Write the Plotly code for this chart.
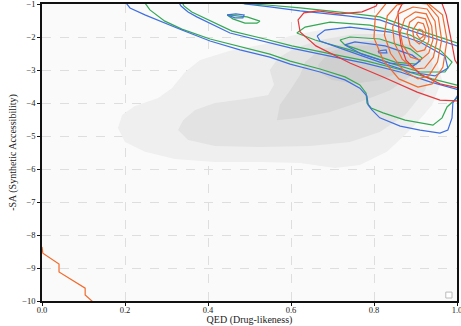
import plotly.graph_objects as go

# ---------------- reference density (gray filled KDE levels) ----------------
gray1_x = [0.183, 0.193, 0.224, 0.280, 0.313, 0.345, 0.381, 0.453, 0.537, 0.598, 0.670, 0.742, 0.827, 0.899, 0.947, 0.964, 0.940, 0.892, 0.831, 0.766, 0.706, 0.622, 0.525, 0.417, 0.320, 0.248, 0.200]
gray1_y = [-4.76, -4.36, -4.09, -3.85, -3.55, -3.06, -2.70, -2.42, -2.21, -1.97, -1.79, -1.70, -1.70, -1.94, -2.55, -3.30, -4.06, -4.76, -5.48, -5.88, -5.97, -5.82, -5.79, -5.79, -5.70, -5.48, -5.18]
gray2_x = [0.328, 0.340, 0.369, 0.417, 0.489, 0.545, 0.559, 0.549, 0.569, 0.610, 0.670, 0.754, 0.851, 0.923, 0.942, 0.923, 0.875, 0.814, 0.742, 0.646, 0.525, 0.417, 0.352]
gray2_y = [-4.82, -4.52, -4.21, -4.00, -3.88, -3.76, -3.45, -3.00, -2.64, -2.33, -2.09, -1.91, -1.91, -2.24, -2.85, -3.61, -4.36, -4.88, -5.18, -5.30, -5.33, -5.30, -5.12]
gray3_x = [0.566, 0.573, 0.598, 0.622, 0.634, 0.670, 0.742, 0.827, 0.887, 0.911, 0.892, 0.839, 0.766, 0.694, 0.622]
gray3_y = [-4.52, -4.06, -3.61, -3.15, -2.76, -2.39, -2.15, -2.09, -2.24, -2.64, -3.15, -3.61, -3.97, -4.27, -4.45]
gray4_x = [0.665, 0.694, 0.742, 0.814, 0.867, 0.887, 0.867, 0.814, 0.754, 0.699, 0.670]
gray4_y = [-2.85, -2.45, -2.27, -2.24, -2.39, -2.70, -3.06, -3.30, -3.42, -3.30, -3.09]

# ---------------- green series contours ----------------
g1_x = [0.243, 0.260, 0.296, 0.337, 0.405, 0.477, 0.549, 0.598, 0.670, 0.730, 0.766, 0.781, 0.783, 0.793, 0.822, 0.875, 0.942, 0.964, 0.976, 1.002]
g1_y = [-0.88, -1.18, -1.52, -1.76, -2.06, -2.30, -2.52, -2.73, -2.97, -3.21, -3.45, -3.70, -4.00, -4.15, -4.30, -4.52, -4.67, -4.45, -4.12, -3.82]
g2a_x = [0.333, 0.342, 0.361, 0.381, 0.458, 0.537, 0.602, 0.699, 0.783, 0.867, 0.940, 1.007]
g2a_y = [-0.82, -1.06, -1.24, -1.36, -1.82, -2.06, -2.27, -2.52, -2.73, -3.00, -3.27, -3.48]
g2b_x = [0.434, 0.465, 0.542, 0.622, 0.735, 0.814, 0.870, 0.952, 1.007]
g2b_y = [-0.82, -0.97, -1.03, -1.12, -1.27, -1.39, -1.64, -1.97, -2.21]
g_isl_x = [0.446, 0.494, 0.525, 0.518, 0.489, 0.460, 0.446]
g_isl_y = [-1.33, -1.39, -1.52, -1.58, -1.58, -1.45, -1.33]
g3_x = [0.614, 0.634, 0.694, 0.790, 0.887, 0.959, 0.988, 0.971, 0.911, 0.839, 0.742, 0.658, 0.614]
g3_y = [-1.88, -1.70, -1.55, -1.64, -1.94, -2.39, -2.76, -3.06, -3.06, -2.79, -2.39, -2.09, -1.88]
g4_x = [0.718, 0.742, 0.814, 0.887, 0.916, 0.901, 0.851, 0.778, 0.730, 0.718]
g4_y = [-2.09, -2.00, -2.06, -2.36, -2.64, -2.82, -2.76, -2.45, -2.24, -2.09]

# ---------------- blue series contours ----------------
b1_x = [0.197, 0.212, 0.248, 0.284, 0.337, 0.405, 0.477, 0.549, 0.598, 0.670, 0.730, 0.766, 0.783, 0.786, 0.795, 0.814, 0.863, 0.911, 0.959, 0.978, 0.988, 0.990, 1.002]
b1_y = [-0.88, -1.12, -1.33, -1.52, -1.79, -2.12, -2.39, -2.61, -2.82, -3.06, -3.30, -3.55, -3.79, -4.06, -4.21, -4.45, -4.70, -4.82, -4.91, -4.82, -4.45, -4.00, -3.76]
b2a_x = [0.323, 0.335, 0.352, 0.373, 0.453, 0.533, 0.598, 0.694, 0.778, 0.863, 0.935, 1.007]
b2a_y = [-0.82, -1.06, -1.24, -1.39, -1.88, -2.12, -2.33, -2.58, -2.79, -3.06, -3.36, -3.61]
b2b_x = [0.458, 0.489, 0.549, 0.622, 0.735, 0.814, 0.870, 0.952, 1.007]
b2b_y = [-0.82, -1.00, -1.09, -1.21, -1.36, -1.48, -1.73, -2.06, -2.30]
b_isl_x = [0.446, 0.467, 0.487, 0.484, 0.465, 0.446]
b_isl_y = [-1.33, -1.30, -1.33, -1.42, -1.42, -1.33]
b3_x = [0.663, 0.682, 0.742, 0.839, 0.911, 0.971, 0.978, 0.947, 0.887, 0.814, 0.730, 0.670, 0.663]
b3_y = [-1.97, -1.79, -1.70, -1.85, -2.15, -2.58, -2.94, -3.18, -3.06, -2.76, -2.39, -2.12, -1.97]
b4_x = [0.730, 0.754, 0.827, 0.892, 0.911, 0.894, 0.839, 0.771, 0.730]
b4_y = [-2.24, -2.15, -2.27, -2.55, -2.73, -2.88, -2.79, -2.52, -2.24]
b5_x = [0.810, 0.829, 0.831, 0.812, 0.810]
b5_y = [-2.42, -2.39, -2.48, -2.48, -2.42]

# ---------------- red series contours ----------------
r1_x = [0.814, 0.805, 0.771, 0.718, 0.665, 0.631, 0.617, 0.622, 0.660, 0.742, 0.822, 0.904, 0.959, 1.007]
r1_y = [-0.82, -1.06, -1.24, -1.30, -1.21, -1.27, -1.48, -1.85, -2.27, -2.79, -3.21, -3.67, -3.91, -3.94]
r2_x = [0.875, 0.858, 0.860, 0.865, 0.877, 0.911, 0.959, 1.007]
r2_y = [-0.82, -1.24, -1.79, -2.24, -2.70, -3.12, -3.42, -3.55]
r3_x = [0.959, 0.974, 0.986, 0.995, 1.007]
r3_y = [-0.82, -1.33, -2.09, -2.70, -2.94]

# ---------------- orange series contours ----------------
o1_x = [0.870, 0.925, 0.965, 0.976, 0.966, 0.940, 0.906, 0.860, 0.822, 0.800, 0.803, 0.830, 0.870]
o1_y = [-0.85, -0.92, -1.33, -2.09, -2.91, -3.42, -3.52, -3.27, -2.70, -2.03, -1.39, -0.97, -0.85]
o2_x = [0.887, 0.928, 0.955, 0.963, 0.953, 0.932, 0.906, 0.872, 0.840, 0.825, 0.832, 0.855, 0.887]
o2_y = [-0.95, -1.00, -1.40, -2.09, -2.76, -3.18, -3.27, -3.03, -2.50, -1.94, -1.36, -1.03, -0.95]
o3_x = [0.894, 0.928, 0.947, 0.952, 0.943, 0.922, 0.896, 0.868, 0.849, 0.845, 0.858, 0.894]
o3_y = [-1.09, -1.15, -1.52, -2.09, -2.61, -2.94, -2.97, -2.67, -2.18, -1.70, -1.30, -1.09]
o4_x = [0.899, 0.926, 0.939, 0.942, 0.932, 0.912, 0.888, 0.869, 0.863, 0.874, 0.899]
o4_y = [-1.24, -1.30, -1.67, -2.09, -2.48, -2.70, -2.61, -2.24, -1.85, -1.45, -1.24]
o5_x = [0.904, 0.924, 0.932, 0.932, 0.922, 0.904, 0.887, 0.880, 0.886, 0.904]
o5_y = [-1.39, -1.45, -1.76, -2.12, -2.39, -2.45, -2.24, -1.88, -1.55, -1.39]
o6_x = [0.906, 0.919, 0.925, 0.922, 0.909, 0.897, 0.893, 0.906]
o6_y = [-1.55, -1.60, -1.82, -2.06, -2.21, -2.09, -1.80, -1.55]
o7_x = [0.908, 0.917, 0.919, 0.911, 0.903, 0.908]
o7_y = [-1.76, -1.80, -1.97, -2.06, -1.92, -1.76]
o_tail_x = [0.000, 0.002, 0.041, 0.041, 0.104, 0.104, 0.123]
o_tail_y = [-8.36, -8.55, -8.88, -9.12, -9.61, -9.82, -10.03]

x_ticks = [0.0, 0.2, 0.4, 0.6, 0.8, 1.0]
y_ticks = [-1, -2, -3, -4, -5, -6, -7, -8, -9, -10]

GREEN = "#34a853"
BLUE = "#3f6fe0"
RED = "#e5383b"
ORANGE = "#f26a2c"

fig = go.Figure()

for gx, gy, col in [(gray1_x, gray1_y, "#efefef"), (gray2_x, gray2_y, "#e3e3e3"),
                    (gray3_x, gray3_y, "#d8d8d8"), (gray4_x, gray4_y, "#cfcfcf")]:
    fig.add_trace(go.Scatter(x=gx + gx[:1], y=gy + gy[:1], mode="lines", fill="toself",
                             fillcolor=col, line=dict(width=0, color=col),
                             hoverinfo="skip", showlegend=False))

def add_line(xs, ys, col):
    fig.add_trace(go.Scatter(x=xs, y=ys, mode="lines", line=dict(color=col, width=1.2),
                             hoverinfo="skip", showlegend=False))

for xs, ys in [(g1_x, g1_y), (g2a_x, g2a_y), (g2b_x, g2b_y), (g_isl_x, g_isl_y), (g3_x, g3_y), (g4_x, g4_y)]:
    add_line(xs, ys, GREEN)
for xs, ys in [(b1_x, b1_y), (b2a_x, b2a_y), (b2b_x, b2b_y), (b_isl_x, b_isl_y), (b3_x, b3_y), (b4_x, b4_y), (b5_x, b5_y)]:
    add_line(xs, ys, BLUE)
for xs, ys in [(r1_x, r1_y), (r2_x, r2_y), (r3_x, r3_y)]:
    add_line(xs, ys, RED)
for xs, ys in [(o1_x, o1_y), (o2_x, o2_y), (o3_x, o3_y), (o4_x, o4_y), (o5_x, o5_y), (o6_x, o6_y), (o7_x, o7_y), (o_tail_x, o_tail_y)]:
    add_line(xs, ys, ORANGE)

font = dict(family="Liberation Serif, DejaVu Serif, serif", size=9, color="#222222")
axis_common = dict(showgrid=True, gridcolor="#dedede", griddash="dash", gridwidth=1,
                   showline=True, linecolor="#111111", linewidth=1.5, mirror=True,
                   ticks="outside", ticklen=3, tickcolor="#111111", zeroline=False,
                   ticklabeloverflow="allow",
                   tickfont=dict(family=font["family"], size=8.5, color="#222222"), automargin=False)

fig.update_layout(
    width=461, height=326,
    margin=dict(l=42, r=4, t=4, b=25),
    paper_bgcolor="white", plot_bgcolor="#fafafa",
    font=font, showlegend=False,
    xaxis=dict(range=[0, 1], tickvals=x_ticks, tickformat=".1f", ticklabelstandoff=-3,
               title=dict(text="QED (Drug-likeness)", font=dict(size=10, color="#222222"), standoff=6), **axis_common),
    yaxis=dict(range=[-10, -1], tickvals=y_ticks,
               title=dict(text="-SA (Synthetic Accessibility)", font=dict(size=10, color="#222222"), standoff=4), **axis_common),
    shapes=[dict(type="rect", xref="paper", yref="paper", x0=0.973, x1=0.988, y0=0.010, y1=0.030,
                 line=dict(color="#bbbbbb", width=1), fillcolor="white")],
)

fig.write_html("out.html", config={"displayModeBar": False},
               post_script="document.body.style.margin='0';document.body.style.padding='0';")
